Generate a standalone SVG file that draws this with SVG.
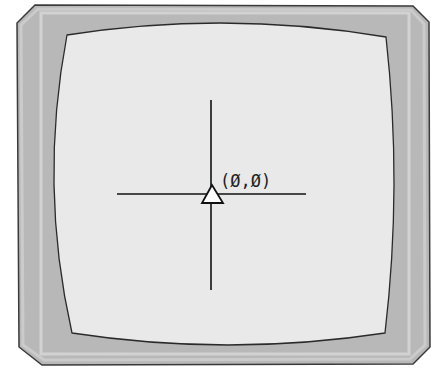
<svg xmlns="http://www.w3.org/2000/svg" width="433" height="368" viewBox="0 0 433 368">
<style>
.frame{fill:#b8b8b8;stroke:#3a3a3a;stroke-width:1.5}
.bevel{fill:none;stroke:#d2d2d2;stroke-width:3}
.screen{fill:#e9e9e9;stroke:#2a2a2a;stroke-width:1.3}
.axis{stroke:#111;stroke-width:1.6;fill:none}
.mark{fill:#fff;stroke:#111;stroke-width:1.8}
.lbl{font-family:"DejaVu Sans Mono","Liberation Mono",monospace;font-size:17px;fill:#222}
</style>
<rect width="433" height="368" fill="#ffffff"/>
<g id="monitor">
<polygon class="frame" points="35,5 413,6 429,22 430,347 413,364 42,365 19,347 17,23"/>
<polygon points="38,9 411,10 424,24 425,345 410,359 44,360 23,345 21,25" fill="none" stroke="#cbcbcb" stroke-width="3"/>
<rect class="bevel" x="41" y="13" width="368" height="341"/>
<path class="screen" d="M67,35 Q226,10 386,37 Q402.5,185 385,333 Q228,357 72,333 Q38.5,185 67,35 Z"/>
</g>
<g id="origin">
<line class="axis" x1="211" y1="100" x2="211" y2="290"/>
<line class="axis" x1="117" y1="194" x2="306" y2="194"/>
<polygon class="mark" points="212,185 202,203 223,203"/>
<text class="lbl" x="220" y="187">(Ø,Ø)</text>
</g>
</svg>
